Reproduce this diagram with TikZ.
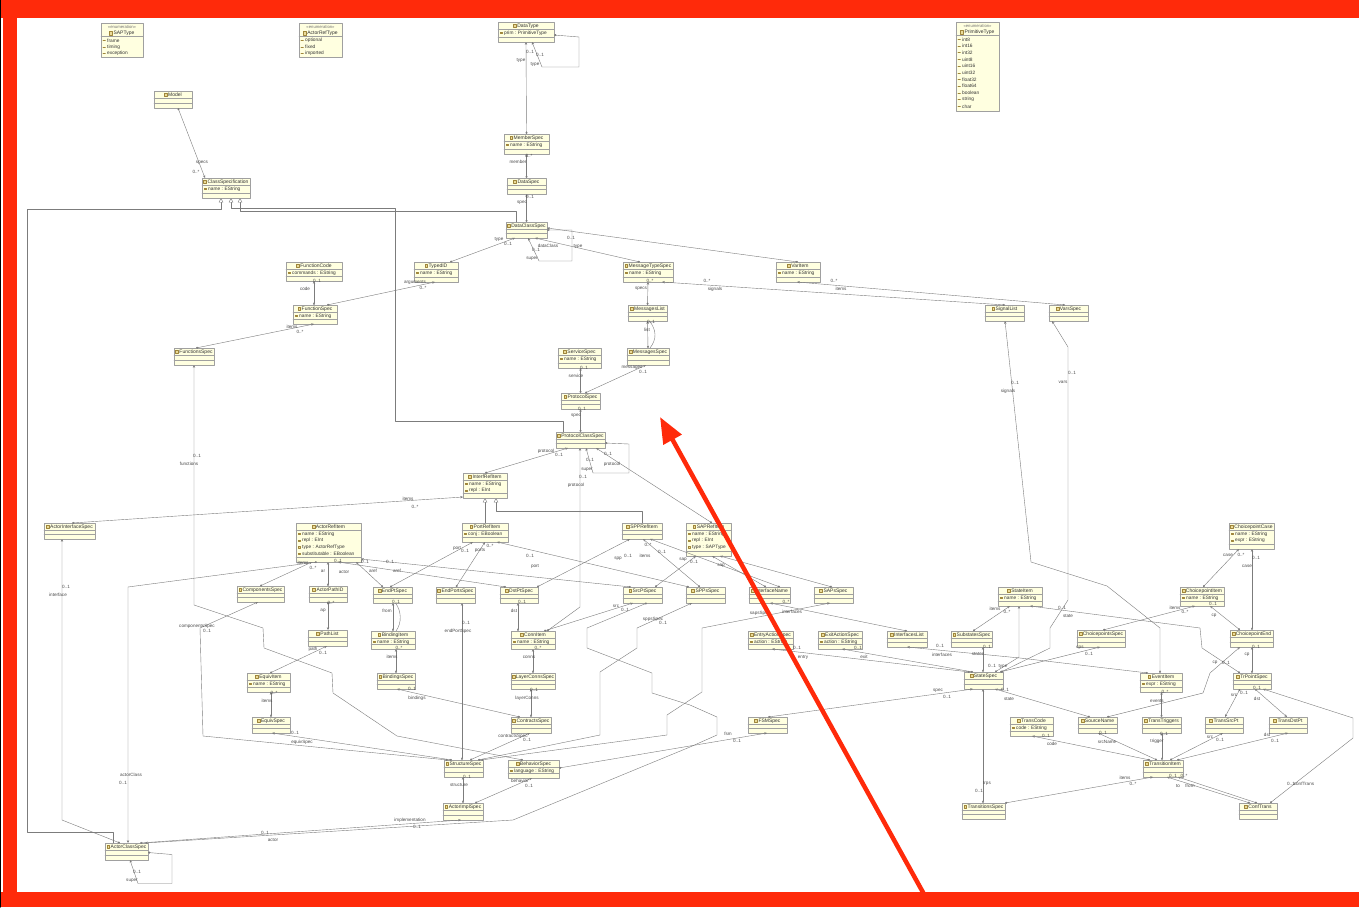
\documentclass[tikz,border=0pt]{standalone}
\usepackage{fontspec}
\setmainfont{Liberation Sans}
\usetikzlibrary{arrows.meta}

\definecolor{clsfill}{HTML}{FFFFE0}
\definecolor{clsedge}{HTML}{A0A0A0}
\definecolor{wire}{HTML}{7C7C7C}
\definecolor{lbltext}{HTML}{4A4A4A}
\definecolor{frame}{HTML}{FF2A0A}
\definecolor{iconfill}{HTML}{EADB9A}
\definecolor{iconedge}{HTML}{A0863A}

\tikzset{
  clsbox/.style={draw=clsedge,fill=clsfill,line width=.5pt,anchor=north west,inner sep=0pt,outer sep=0pt},
  clstitle/.style={font=\fontsize{5}{5.5}\selectfont,text=black!80,inner sep=0pt},
  clsattr/.style={font=\fontsize{4.8}{5.2}\selectfont,text=black!80,inner sep=0pt,anchor=west},
  stereo/.style={font=\fontsize{4.2}{4.6}\selectfont,text=black!55,inner sep=0pt},
  clssep/.style={draw=clsedge,line width=.4pt},
  clsicon/.style={draw=iconedge,fill=iconfill,line width=.25pt},
  liticon/.style={draw=iconedge,line width=.6pt},
  lbl/.style={font=\fontsize{4.6}{5}\selectfont,text=lbltext,inner sep=0pt},
  ref/.style={draw=wire,line width=.4pt},
  assoc/.style={ref,arrows={Diamond[length=2.6pt,width=2pt]-Stealth[length=2.8pt,width=2.4pt]}},
  gen/.style={ref,arrows={-Triangle[length=4.4pt,width=4.4pt,fill=white]}},
}

% class box: name, x, y, width, height, title
\newcommand\cls[6]{%
  \node[clsbox,minimum width=#4pt,minimum height=#5pt] (#1) at (#2,#3) {};
  \node[clstitle] (#1-t) at ([xshift=2pt,yshift=-3.8pt]#1.north) {#6};
  \draw[clsicon] ([xshift=-1pt,yshift=1.7pt]#1-t.west) rectangle ++(-2.8,3.4);
  \draw[clssep] ([yshift=-7.4pt]#1.north west) -- ([yshift=-7.4pt]#1.north east);
  \draw[clssep] ([yshift=4.4pt]#1.south west) -- ([yshift=4.4pt]#1.south east);}
% class box with attributes
\newcommand\clsa[7]{%
  \cls{#1}{#2}{#3}{#4}{#5}{#6}%
  \foreach \at [count=\ai] in {#7}{%
    \node[clsattr] (#1-a\ai) at ([xshift=6pt,yshift={(-10.9-6.6*(\ai-1))*1pt}]#1.north west) {\at};
    \draw[clsicon] ([xshift=2pt,yshift={(-10.2-6.6*(\ai-1))*1pt}]#1.north west) rectangle ++(2.6,1.4);}}
% enumeration box
\newcommand\enm[7]{%
  \node[clsbox,minimum width=#4pt,minimum height=#5pt] (#1) at (#2,#3) {};
  \node[stereo] (#1-s) at ([yshift=-3.6pt]#1.north) {«enumeration»};
  \node[clstitle] (#1-t) at ([xshift=2pt,yshift=-10.2pt]#1.north) {#6};
  \draw[clsicon] ([xshift=-1pt,yshift=1.7pt]#1-t.west) rectangle ++(-2.8,3.4);
  \draw[clssep] ([yshift=-13.6pt]#1.north west) -- ([yshift=-13.6pt]#1.north east);
  \foreach \lit [count=\li] in {#7}{%
    \node[clsattr] (#1-l\li) at ([xshift=6pt,yshift={(-17.3-6.7*(\li-1))*1pt}]#1.north west) {\lit};
    \draw[liticon] ([xshift=2pt,yshift={(-17.3-6.7*(\li-1))*1pt}]#1.north west) -- ++(2.4,0);}}
% role and multiplicity text
\newcounter{lblno}
\newcommand\lbl[3]{\stepcounter{lblno}\edef\lblname{lbl\arabic{lblno}}%
  \node[lbl] (\lblname) at (#1,#2) {#3};}

\begin{document}
\begin{tikzpicture}[x=1pt,y=-1pt,line cap=round,line join=round]
  \useasboundingbox (0,0) rectangle (1359,907);
  \fill[white] (0,0) rectangle (1359,907);

  % enumerations
  \enm{SAPType}{101}{23}{42}{34}{SAPType}{frame,timing,exception}
  \enm{ActorRefType}{299}{23}{43}{34}{ActorRefType}{optional,fixed,imported}
  \enm{PrimitiveType}{956}{22}{43}{89}{PrimitiveType}{int8,int16,int32,uint8,uint16,uint32,float32,float64,boolean,string,char}

  % classes
  \cls{Model}{154}{91}{38}{17}{Model}
  \clsa{ClassSpecification}{202}{178}{48}{20}{ClassSpecification}{name : EString}
  \clsa{DataType}{498}{22}{56}{20}{DataType}{prim : PrimitiveType}
  \clsa{MemberSpec}{504}{134}{45}{20}{MemberSpec}{name : EString}
  \cls{DataSpec}{507}{178}{39}{16}{DataSpec}
  \cls{DataClassSpec}{506}{222}{41}{16}{DataClassSpec}
  \clsa{FunctionCode}{286}{262}{56}{19}{FunctionCode}{commands : EString}
  \clsa{TypedID}{414}{262}{44}{20}{TypedID}{name : EString}
  \clsa{MessageTypeSpec}{623}{262}{50}{20}{MessageTypeSpec}{name : EString}
  \clsa{VarItem}{776}{262}{44}{20}{VarItem}{name : EString}
  \clsa{FunctionSpec}{293}{305}{44}{19}{FunctionSpec}{name : EString}
  \cls{MessagesList}{628}{305}{39}{16}{MessagesList}
  \cls{SignalList}{985}{305}{39}{16}{SignalList}
  \cls{VarsSpec}{1049}{305}{39}{16}{VarsSpec}
  \cls{FunctionsSpec}{174}{348}{40}{17}{FunctionsSpec}
  \clsa{ServiceSpec}{558}{348}{43}{20}{ServiceSpec}{name : EString}
  \cls{MessagesSpec}{627}{348}{42}{17}{MessagesSpec}
  \cls{ProtocolSpec}{561}{393}{39}{16}{ProtocolSpec}
  \cls{ProtocolClassSpec}{556}{432}{49}{16}{ProtocolClassSpec}
  \clsa{InterfRefItem}{463}{473}{44}{25}{InterfRefItem}{name : EString,repl : EInt}
  \cls{ActorInterfaceSpec}{44}{523}{51}{16}{ActorInterfaceSpec}
  \clsa{ActorRefItem}{296}{523}{65}{39}{ActorRefItem}{name : EString,repl : EInt,type : ActorRefType,substitutable : EBoolean}
  \clsa{PortRefItem}{462}{523}{46}{19}{PortRefItem}{conj : EBoolean}
  \cls{SPPRefItem}{622}{523}{40}{16}{SPPRefItem}
  \clsa{SAPRefItem}{686}{523}{45}{33}{SAPRefItem}{name : EString,repl : EInt,type : SAPType}
  \clsa{ChoicepointCase}{1229}{523}{45}{26}{ChoicepointCase}{name : EString,expr : EString}
  \cls{ComponentsSpec}{237}{586}{47}{16}{ComponentsSpec}
  \cls{ActorPathID}{309}{586}{38}{16}{ActorPathID}
  \cls{EndPtSpec}{373}{587}{39}{16}{EndPtSpec}
  \cls{EndPortsSpec}{436}{587}{39}{16}{EndPortsSpec}
  \cls{DstPtSpec}{500}{587}{38}{16}{DstPtSpec}
  \cls{SrcPtSpec}{623}{587}{39}{16}{SrcPtSpec}
  \cls{SPPsSpec}{686}{587}{39}{16}{SPPsSpec}
  \cls{InterfaceName}{749}{587}{41}{16}{InterfaceName}
  \cls{SAPsSpec}{814}{587}{39}{16}{SAPsSpec}
  \clsa{StateItem}{998}{587}{44}{19}{StateItem}{name : EString}
  \clsa{ChoicepointItem}{1180}{587}{44}{19}{ChoicepointItem}{name : EString}
  \cls{PathList}{308}{630}{39}{16}{PathList}
  \clsa{BindingItem}{371}{631}{44}{18}{BindingItem}{name : EString}
  \clsa{ConnItem}{511}{631}{44}{18}{ConnItem}{name : EString}
  \clsa{EntryActionSpec}{748}{631}{45}{18}{EntryActionSpec}{action : EString}
  \clsa{ExitActionSpec}{818}{631}{44}{18}{ExitActionSpec}{action : EString}
  \cls{InterfacesList}{887}{631}{40}{16}{InterfacesList}
  \cls{SubstatesSpec}{951}{631}{41}{16}{SubstatesSpec}
  \cls{ChoicepointsSpec}{1077}{630}{48}{17}{ChoicepointsSpec}
  \cls{ChoicepointEnd}{1230}{630}{43}{17}{ChoicepointEnd}
  \clsa{EquivItem}{247}{673}{43}{19}{EquivItem}{name : EString}
  \cls{BindingsSpec}{377}{673}{38}{16}{BindingsSpec}
  \cls{LayerConnsSpec}{511}{673}{44}{16}{LayerConnsSpec}
  \cls{StateSpec}{964}{672}{39}{17}{StateSpec}
  \clsa{EventItem}{1140}{673}{42}{19}{EventItem}{expr : EString}
  \cls{TrPointSpec}{1233}{673}{38}{16}{TrPointSpec}
  \cls{EquivSpec}{252}{717}{38}{16}{EquivSpec}
  \cls{ContractsSpec}{511}{717}{40}{16}{ContractsSpec}
  \cls{FSMSpec}{748}{717}{39}{16}{FSMSpec}
  \clsa{TransCode}{1010}{717}{43}{19}{TransCode}{code : EString}
  \cls{SourceName}{1078}{717}{39}{16}{SourceName}
  \cls{TransTriggers}{1142}{717}{39}{16}{TransTriggers}
  \cls{TransSrcPt}{1205}{717}{38}{16}{TransSrcPt}
  \cls{TransDstPt}{1269}{717}{38}{16}{TransDstPt}
  \cls{StructureSpec}{444}{760}{39}{17}{StructureSpec}
  \clsa{BehaviorSpec}{508}{760}{51}{18}{BehaviorSpec}{language : EString}
  \cls{TransitionItem}{1143}{760}{40}{17}{TransitionItem}
  \cls{ActorImplSpec}{443}{803}{40}{17}{ActorImplSpec}
  \cls{TransitionsSpec}{962}{803}{43}{16}{TransitionsSpec}
  \cls{ConfTrans}{1239}{803}{38}{16}{ConfTrans}
  \cls{ActorClassSpec}{105}{843}{43}{17}{ActorClassSpec}

  % generalizations
  \draw[gen] ([xshift=8pt]ActorClassSpec.north west) -- (113,832) -- (27,832) -- (27,209) -- (221,209) -- ([xshift=19pt]ClassSpecification.south west);
  \draw[gen] ([xshift=7pt]ProtocolClassSpec.north west) -- (563,421) -- (395,421) -- (395,208) -- (231,208) -- ([xshift=29pt]ClassSpecification.south west);
  \draw[gen] ([xshift=10pt]DataClassSpec.north west) -- (516,211) -- (240,211) -- ([xshift=38pt]ClassSpecification.south west);
  \draw[gen] (PortRefItem.north) -- ([xshift=22pt]InterfRefItem.south west);
  \draw[gen] (SPPRefItem.north) -- ++(0,-12) -| ([xshift=33pt]InterfRefItem.south west);

  % data and protocol part
  \draw[assoc] ([xshift=24pt]Model.south west) -- ([xshift=3pt]ClassSpecification.north west);
  \lbl{202}{163}{specs} \lbl{196}{172}{0..*}
  \draw[assoc] (MemberSpec.north) -- (DataType.south);
  \lbl{530}{52}{0..1} \lbl{521}{60}{type}
  \draw[assoc] ([yshift=-3pt]DataType.east) -- ++(25,2) -- ++(0,30) -- ++(-37,0) -- ([xshift=34pt]DataType.south west);
  \lbl{540}{55}{0..1} \lbl{535}{64}{type}
  \draw[assoc] (DataSpec.north) -- (MemberSpec.south);
  \lbl{529}{156}{0..*} \lbl{518}{162}{member}
  \draw[assoc] (DataClassSpec.north) -- (DataSpec.south);
  \lbl{530}{197}{0..1} \lbl{522}{203}{spec}
  \draw[assoc] ([xshift=36pt]TypedID.north west) -- ([xshift=9pt]DataClassSpec.south west);
  \lbl{499}{239}{type} \lbl{508}{244}{0..1}
  \draw[assoc] (DataClassSpec.east) -- ++(25,0) -- ++(0,31) -- ++(-33,0) -- ([xshift=22pt]DataClassSpec.south west);
  \lbl{536}{250}{0..1} \lbl{532}{259}{super}
  \draw[assoc] ([xshift=17pt]MessageTypeSpec.north west) -- ([xshift=29pt]DataClassSpec.south west);
  \lbl{548}{246}{dataClass}
  \draw[assoc] ([xshift=22pt]VarItem.north west) -- ([yshift=2pt]DataClassSpec.east);
  \lbl{571}{238}{0..1} \lbl{578}{246}{type}
  \draw[assoc] (MessagesList.north) -- (MessageTypeSpec.south);
  \lbl{650}{281}{0..*} \lbl{641}{289}{specs}
  \draw[assoc] ([xshift=20pt]SignalList.north west) -- ([xshift=39pt]MessageTypeSpec.south west);
  \lbl{707}{281}{0..*} \lbl{715}{289}{signals}
  \draw[assoc] ([xshift=16pt]VarsSpec.north west) -- ([xshift=21pt]VarItem.south west);
  \lbl{834}{281}{0..*} \lbl{841}{289}{items}
  \draw[assoc] (MessagesSpec.north) -- (MessagesList.south);
  \draw[ref] ([xshift=2pt]MessagesList.south) .. controls +(7,9) and +(7,-9) .. ([xshift=2pt]MessagesSpec.north);
  \lbl{651}{322}{0..1} \lbl{647}{330}{list}
  \draw[assoc] (ProtocolSpec.north) -- (ProtocolSpec.north |- ServiceSpec.south);
  \lbl{584}{368}{0..1} \lbl{576}{376}{service}
  \draw[assoc] ([xshift=24pt]ProtocolSpec.north west) -- ([xshift=19pt]MessagesSpec.south west);
  \lbl{632}{368}{messages} \lbl{643}{372}{0..1}
  \draw[assoc] (ProtocolClassSpec.north) -- (ProtocolClassSpec.north |- ProtocolSpec.south);
  \lbl{582}{409}{0..1} \lbl{576}{416}{spec}
  \draw[assoc] (InterfRefItem.north) -- ([xshift=12pt]ProtocolClassSpec.south west);
  \lbl{546}{451}{protocol} \lbl{559}{455}{0..1}
  \draw[assoc] ([yshift=-3pt]ProtocolClassSpec.east) -- ++(24,1) -- ++(0,29) -- ++(-36,0) -- ([xshift=30pt]ProtocolClassSpec.south west);
  \lbl{590}{460}{0..1} \lbl{587}{470}{super}
  \draw[assoc] ([xshift=26pt]SAPRefItem.north west) -- ([xshift=40pt]ProtocolClassSpec.south west);
  \lbl{608}{454}{0..1} \lbl{612}{464}{protocol}
  \draw[assoc] ([xshift=36pt]ConnItem.north west) -- (580,607) -- ([xshift=24pt]ProtocolClassSpec.south west);
  \lbl{583}{477}{0..1} \lbl{576}{485}{protocol}

  % functions and actors
  \draw[assoc] ([xshift=21pt]FunctionSpec.north west) -- ([xshift=28pt]FunctionCode.south west);
  \lbl{317}{281}{0..1} \lbl{305}{289}{code}
  \draw[assoc] ([xshift=34pt]FunctionSpec.north west) -- ([xshift=21pt]TypedID.south west);
  \lbl{415}{282}{arguments} \lbl{423}{288}{0..*}
  \draw[assoc] ([xshift=22pt]FunctionsSpec.north west) -- ([xshift=21pt]FunctionSpec.south west);
  \lbl{292}{327}{items} \lbl{300}{332}{0..*}
  \draw[assoc] ([xshift=15pt]BehaviorSpec.north west) -- (397,736) -- (333,693) -- (332,673) -- (264,648) -- (263,628) -- (194,605) -- ([xshift=20pt]FunctionsSpec.south west);
  \lbl{197}{456}{0..1} \lbl{189}{464}{functions}
  \draw[assoc] ([xshift=28pt]ActorInterfaceSpec.north west) -- ([yshift=1pt]InterfRefItem.south west);
  \lbl{408}{499}{items} \lbl{415}{507}{0..*}
  \draw[assoc] ([xshift=15pt]ActorClassSpec.north west) -- (62,820) -- ([xshift=18pt]ActorInterfaceSpec.south west);
  \lbl{66}{587}{0..1} \lbl{58}{595}{interface}
  \draw[assoc] ([yshift=-1pt]ActorClassSpec.east) -- ++(24,2) -- ++(0,29) -- ++(-34,0) -- ([xshift=25pt]ActorClassSpec.south west);
  \lbl{137}{872}{0..1} \lbl{132}{881}{super}
  \draw[assoc] ([xshift=21pt]ActorRefItem.south west) -- (128,587) -- ([xshift=23pt]ActorClassSpec.north west);
  \lbl{131}{775}{actorClass} \lbl{123}{783}{0..1}
  \draw[assoc] ([xshift=23pt]ComponentsSpec.north west) -- ([xshift=16pt]ActorRefItem.south west);
  \lbl{303}{563}{items} \lbl{313}{568}{0..*}
  \draw[assoc] (ActorPathID.north) -- (ActorPathID.north |- ActorRefItem.south);
  \lbl{323}{571}{ar}
  \draw[assoc] (ActorPathID.south) -- (ActorPathID.south |- PathList.north);
  \lbl{331}{603}{0..*} \lbl{323}{611}{ap}
  \draw[assoc] ([xshift=23pt]EquivItem.north west) -- ([xshift=19pt]PathList.south west);
  \lbl{313}{649}{path} \lbl{323}{653}{0..1}
  \draw[assoc] (EquivSpec.north) -- (EquivSpec.north |- EquivItem.south);
  \lbl{274}{693}{0..*} \lbl{267}{701}{items}
  \draw[assoc] ([xshift=8pt]StructureSpec.north west) -- ([xshift=20pt]EquivSpec.south west);
  \lbl{295}{733}{0..1} \lbl{302}{742}{equivSpec}
  \draw[assoc] ([xshift=4pt]StructureSpec.north west) -- (203,736) -- (200,628) -- ([xshift=21pt]ComponentsSpec.south west);
  \lbl{197}{626}{componentsSpec} \lbl{207}{631}{0..1}

  % ports, bindings, connections
  \draw[assoc] ([xshift=10pt]EndPtSpec.north west) -- ([xshift=60pt]ActorRefItem.south west);
  \lbl{365}{562}{0..1} \lbl{373}{571}{aref}
  \draw[assoc] ([xshift=8pt]SrcPtSpec.north west) -- ([yshift=3pt]ActorRefItem.south east);
  \lbl{390}{562}{0..1} \lbl{397}{571}{aref}
  \draw[assoc] ([xshift=6pt]DstPtSpec.north west) -- ([xshift=42pt]ActorRefItem.south west);
  \lbl{338}{561}{0..1} \lbl{344}{572}{actor}
  \draw[assoc] ([xshift=17pt]EndPtSpec.north west) -- ([xshift=11pt]PortRefItem.south west);
  \lbl{457}{548}{port} \lbl{465}{551}{0..1}
  \draw[assoc] ([xshift=20pt]EndPortsSpec.north west) -- ([xshift=23pt]PortRefItem.south west);
  \lbl{480}{550}{ports} \lbl{490}{546}{0..*}
  \draw[assoc] ([xshift=3pt]SPPsSpec.north west) -- ([xshift=35pt]PortRefItem.south west);
  \lbl{530}{556}{0..1} \lbl{535}{566}{port}
  \draw[assoc] ([xshift=37pt]DstPtSpec.north west) -- ([xshift=8pt]SPPRefItem.south west);
  \lbl{618}{559}{spp} \lbl{628}{556}{0..1}
  \draw[assoc] ([xshift=14pt]SPPsSpec.north west) -- ([xshift=21pt]SPPRefItem.south west);
  \lbl{645}{556}{items} \lbl{648}{545}{0..*}
  \draw[assoc] ([xshift=31pt]InterfaceName.north west) -- ([xshift=28pt]SPPRefItem.south west);
  \lbl{662}{552}{0..1}
  \draw[assoc] ([xshift=17pt]InterfaceName.north west) -- ([xshift=26pt]SAPRefItem.south west);
  \lbl{721}{566}{sap}
  \draw[assoc] ([xshift=18pt]SAPsSpec.north west) -- ([xshift=34pt]SAPRefItem.south west);
  \draw[assoc] ([xshift=32pt]SrcPtSpec.north west) -- ([xshift=10pt]SAPRefItem.south west);
  \lbl{683}{560}{sap} \lbl{694}{562}{0..1}
  \draw[assoc] (BindingItem.north) -- (BindingItem.north |- EndPtSpec.south);
  \draw[ref] ([xshift=3pt]EndPtSpec.south) .. controls +(6,8) and +(6,-8) .. ([xshift=3pt]BindingItem.north);
  \lbl{396}{602}{0..1} \lbl{387}{611}{from}
  \draw[assoc] ([xshift=19pt]BindingsSpec.north west) -- ([xshift=25pt]BindingItem.south west);
  \lbl{399}{648}{0..*} \lbl{392}{657}{items}
  \draw[assoc] ([xshift=9pt]ContractsSpec.north west) -- ([xshift=20pt]BindingsSpec.south west);
  \lbl{412}{689}{0..1} \lbl{417}{698}{bindings}
  \draw[assoc] ([xshift=18pt]StructureSpec.north west) -- ([xshift=26pt]EndPortsSpec.south west);
  \lbl{466}{623}{0..1} \lbl{458}{631}{endPortSpec}
  \draw[assoc] ([xshift=7pt]ConnItem.north west) -- ([xshift=18pt]DstPtSpec.south west);
  \lbl{522}{602}{0..1} \lbl{514}{611}{dst}
  \draw[assoc] ([xshift=33pt]ConnItem.north west) -- ([xshift=10pt]SrcPtSpec.south west);
  \lbl{616}{606}{src} \lbl{625}{610}{0..1}
  \draw[assoc] (LayerConnsSpec.north) -- (ConnItem.south);
  \lbl{538}{648}{0..*} \lbl{529}{657}{conns}
  \draw[assoc] (ContractsSpec.north) -- (ContractsSpec.north |- LayerConnsSpec.south);
  \lbl{534}{690}{0..1} \lbl{527}{698}{layerConns}
  \draw[assoc] ([xshift=26pt]StructureSpec.north west) -- ([xshift=19pt]ContractsSpec.south west);
  \lbl{513}{736}{contractsSpec} \lbl{527}{740}{0..1}
  \draw[assoc] (ActorImplSpec.north) -- (ActorImplSpec.north |- StructureSpec.south);
  \lbl{467}{777}{0..1} \lbl{459}{785}{structure}
  \draw[assoc] ([xshift=32pt]ActorImplSpec.north west) -- ([xshift=24pt]BehaviorSpec.south west);
  \lbl{520}{781}{behavior} \lbl{529}{786}{0..1}
  \draw[assoc] ([xshift=35pt]ActorClassSpec.north west) -- ([xshift=18pt]ActorImplSpec.south west);
  \lbl{410}{820}{implementation} \lbl{417}{827}{0..1}
  \draw[assoc] ([yshift=1pt]BehaviorSpec.east) -- ([xshift=19pt]FSMSpec.south west);
  \lbl{728}{734}{fsm} \lbl{737}{741}{0..1}
  \draw[assoc] ([xshift=24pt]SrcPtSpec.south west) -- (587,628) -- (587,648) -- (652,673) -- (652,693) -- (690,705) -- (717,717) -- (717,735) -- (690,747) -- (513,820) -- ([xshift=40pt]ActorClassSpec.north west);
  \lbl{265}{833}{0..1} \lbl{273}{840}{actor}
  \draw[assoc] ([xshift=34pt]StructureSpec.north west) -- (600,735) -- (600,672) -- (637,648) -- (637,628) -- ([xshift=6pt]SPPsSpec.south west);
  \lbl{653}{619}{sppsSpec} \lbl{663}{623}{0..1}
  \draw[assoc] ([xshift=37pt]StructureSpec.north west) -- (667,735) -- (667,715) -- (702,692) -- (702,628) -- ([xshift=16pt]SAPsSpec.south west);
  \lbl{760}{613}{sapsSpec}

  % state machine part
  \draw[assoc] ([xshift=6pt]StateSpec.north west) -- ([xshift=24pt]EntryActionSpec.south west);
  \lbl{797}{648}{0..1} \lbl{803}{657}{entry}
  \draw[assoc] ([xshift=9pt]StateSpec.north west) -- ([xshift=24pt]ExitActionSpec.south west);
  \lbl{858}{648}{0..1} \lbl{864}{657}{exit}
  \draw[assoc] ([xshift=19pt]StateSpec.north west) -- ([xshift=32pt]SubstatesSpec.south west);
  \lbl{987}{647}{0..1} \lbl{978}{654}{states}
  \draw[assoc] ([xshift=22pt]SubstatesSpec.north west) -- ([xshift=12pt]StateItem.south west);
  \lbl{995}{609}{items} \lbl{1007}{612}{0..*}
  \draw[assoc] ([xshift=31pt]StateSpec.north west) -- (1019,657) -- ([xshift=21pt]StateItem.south west);
  \lbl{992}{666}{0..1} \lbl{1003}{666}{type}
  \draw[assoc] ([xshift=7pt]TrPointSpec.north west) -- (1202,648) -- (1200,628) -- ([xshift=32pt]StateItem.south west);
  \lbl{1062}{608}{0..1} \lbl{1068}{616}{state}
  \draw[assoc] ([xshift=20pt]InterfacesList.north west) -- ([xshift=21pt]InterfaceName.south west);
  \lbl{786}{602}{0..*} \lbl{792}{612}{interfaces}
  \draw[assoc] ([xshift=8pt]EventItem.north west) -- (1020,658) -- ([xshift=20pt]InterfacesList.south west);
  \lbl{940}{646}{0..1} \lbl{942}{655}{interfaces}
  \draw[assoc] ([xshift=20pt]FSMSpec.north west) -- ([xshift=9pt]StateSpec.south west);
  \lbl{938}{691}{spec} \lbl{947}{697}{0..1}
  \draw[assoc] ([xshift=21pt]TransitionsSpec.north west) -- ([xshift=19pt]StateSpec.south west);
  \lbl{987}{783}{trps} \lbl{979}{791}{0..1}
  \draw[assoc] ([xshift=12pt]SourceName.north west) -- ([xshift=31pt]StateSpec.south west);
  \lbl{1005}{690}{0..1} \lbl{1009}{699}{state}
  \draw[assoc] ([xshift=36pt]StateSpec.north west) -- ([xshift=23pt]ChoicepointsSpec.south west);
  \lbl{1080}{648}{cps} \lbl{1089}{654}{0..1}
  \draw[assoc] ([xshift=26pt]ChoicepointsSpec.north west) -- ([xshift=15pt]ChoicepointItem.south west);
  \lbl{1175}{608}{items} \lbl{1185}{612}{0..*}
  \draw[assoc] ([xshift=10pt]ChoicepointEnd.north west) -- ([xshift=30pt]ChoicepointItem.south west);
  \lbl{1213}{604}{0..1} \lbl{1214}{616}{cp}
  \draw[assoc] ([xshift=23pt]ChoicepointItem.north west) -- ([xshift=10pt]ChoicepointCase.south west);
  \lbl{1228}{555}{case} \lbl{1241}{555}{0..*}
  \draw[assoc] ([xshift=22pt]ChoicepointEnd.north west) -- ([xshift=23pt]ChoicepointCase.south west);
  \lbl{1256}{558}{0..1} \lbl{1247}{566}{case}
  \draw[assoc] ([xshift=19pt]TrPointSpec.north west) -- ([xshift=22pt]ChoicepointEnd.south west);
  \lbl{1256}{647}{0..1} \lbl{1247}{655}{cp}
  \draw[assoc] ([xshift=29pt]SourceName.north west) -- (1203,693) -- (1210,673) -- ([xshift=10pt]ChoicepointEnd.south west);
  \lbl{1215}{663}{cp} \lbl{1226}{663}{0..1}
  \draw[assoc] ([xshift=20pt]EventItem.north west) -- (1160,628) -- (1107,586) -- (1031,562) -- ([xshift=20pt]SignalList.south west);
  \lbl{1015}{383}{0..1} \lbl{1008}{391}{signals}
  \draw[assoc] ([xshift=37pt]StateSpec.north west) -- (1050,648) -- (1050,628) -- (1068,600) -- (1068,347) -- ([xshift=3pt]VarsSpec.south west);
  \lbl{1072}{373}{0..1} \lbl{1063}{382}{vars}
  \draw[assoc] (TransTriggers.north) -- (TransTriggers.north |- EventItem.south);
  \lbl{1165}{692}{0..*} \lbl{1157}{701}{events}
  \draw[assoc] ([xshift=7pt]TrPointSpec.south west) -- ([xshift=20pt]TransSrcPt.north west);
  \lbl{1234}{695}{src} \lbl{1244}{693}{0..1}
  \draw[assoc] ([xshift=22pt]TrPointSpec.south west) -- ([xshift=18pt]TransDstPt.north west);
  \lbl{1257}{688}{0..1} \lbl{1257}{699}{dst}
  \draw[assoc] ([xshift=7pt]TransitionItem.north west) -- ([xshift=22pt]TransCode.south west);
  \lbl{1046}{736}{0..1} \lbl{1052}{744}{code}
  \draw[assoc] ([xshift=14pt]TransitionItem.north west) -- ([xshift=20pt]SourceName.south west);
  \lbl{1103}{733}{0..1} \lbl{1107}{742}{srcName}
  \draw[assoc] ([xshift=19pt]TransitionItem.north west) -- ([xshift=20pt]TransTriggers.south west);
  \lbl{1164}{734}{0..1} \lbl{1157}{741}{trigger}
  \draw[assoc] ([xshift=27pt]TransitionItem.north west) -- ([xshift=18pt]TransSrcPt.south west);
  \lbl{1210}{737}{src} \lbl{1220}{740}{0..1}
  \draw[assoc] ([xshift=34pt]TransitionItem.north west) -- ([xshift=19pt]TransDstPt.south west);
  \lbl{1267}{735}{dst} \lbl{1275}{741}{0..1}
  \draw[assoc] ([xshift=43pt]TransitionsSpec.north west) -- ([xshift=10pt]TransitionItem.south west);
  \lbl{1125}{778}{items} \lbl{1133}{784}{0..*}
  \draw[assoc] ([xshift=11pt]ConfTrans.north west) -- ([xshift=24pt]TransitionItem.south west);
  \lbl{1173}{776}{0..1} \lbl{1178}{786}{to}
  \draw[assoc] ([xshift=18pt]ConfTrans.north west) -- ([xshift=35pt]TransitionItem.south west);
  \lbl{1184}{776}{0..*} \lbl{1190}{786}{from}
  \draw[assoc] ([xshift=31pt]ConfTrans.north west) -- (1353,738) -- (1353,718) -- ([xshift=30pt]TrPointSpec.south west);
  \lbl{1291}{784}{0..1} \lbl{1304}{784}{confTrans}

  % red frame and pointer
  \fill[frame] (0,0) rectangle (1359,18);
  \fill[frame] (3,0) rectangle (17,907);
  \fill[frame] (0,892) rectangle (1359,907);
  \draw[black,line width=1.2pt] (0.6,0) -- (0.6,907);
  \coordinate (hinttail) at (925,896);
  \coordinate (hinttip) at (660,417);
  \draw[frame,line width=4.5pt,-{Triangle[length=26pt,width=20pt]}] (hinttail) -- (hinttip);
\end{tikzpicture}
\end{document}
